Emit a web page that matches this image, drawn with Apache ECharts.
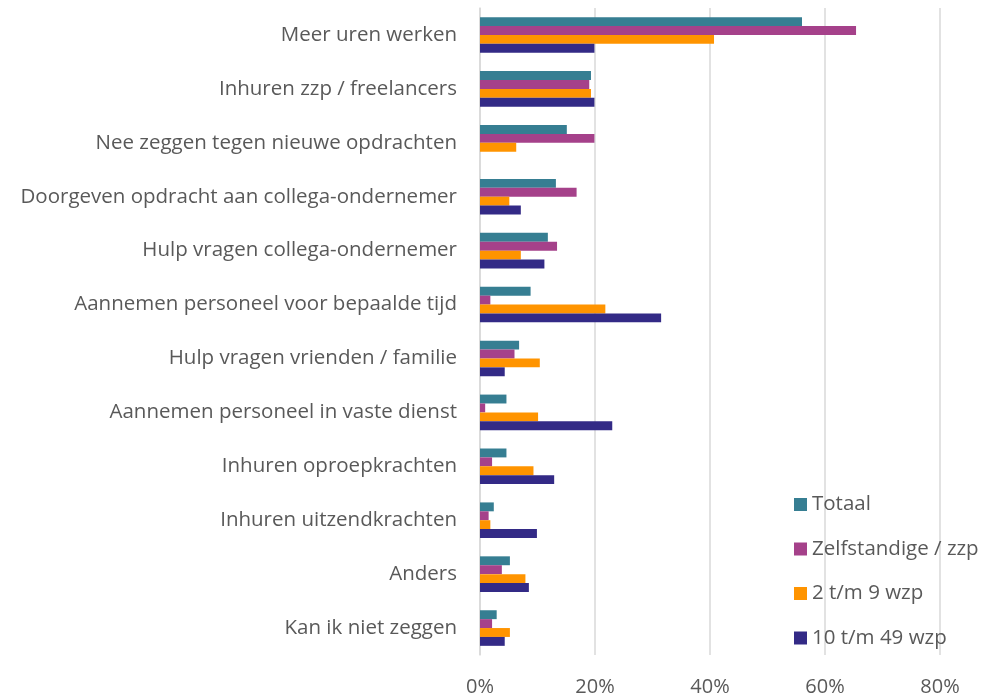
<!DOCTYPE html>
<html>
<head>
<meta charset="utf-8">
<script src="https://cdn.jsdelivr.net/npm/echarts@6/dist/echarts.min.js"></script>
<style>
  html, body { margin: 0; padding: 0; background: #fff; }
  #chart { width: 984px; height: 697px; }
</style>
</head>
<body>
<div id="chart"></div>
<script>
// categories, top to bottom
const categories = [
  'Meer uren werken',
  'Inhuren zzp / freelancers',
  'Nee zeggen tegen nieuwe opdrachten',
  'Doorgeven opdracht aan collega-ondernemer',
  'Hulp vragen collega-ondernemer',
  'Aannemen personeel voor bepaalde tijd',
  'Hulp vragen vrienden / familie',
  'Aannemen personeel in vaste dienst',
  'Inhuren oproepkrachten',
  'Inhuren uitzendkrachten',
  'Anders',
  'Kan ik niet zeggen'
];

// percentages per group
const totaal      = [56.0, 19.3, 15.1, 13.2, 11.8, 8.8, 6.8, 4.6, 4.6, 2.4, 5.2, 2.9];
const zelfstandig = [65.4, 19.0, 19.9, 16.8, 13.4, 1.8, 6.0, 0.9, 2.1, 1.5, 3.8, 2.1];
const wzp2tot9    = [40.7, 19.3, 6.3, 5.1, 7.1, 21.8, 10.4, 10.1, 9.3, 1.8, 7.9, 5.2];
const wzp10tot49  = [19.9, 19.9, 0, 7.1, 11.2, 31.5, 4.3, 23.0, 12.9, 9.9, 8.5, 4.3];

const seriesNames = ['Totaal', 'Zelfstandige / zzp', '2 t/m 9 wzp', '10 t/m 49 wzp'];
const seriesColors = ['#367E92', '#A5418A', '#FF9400', '#332A86'];
const seriesData = [totaal, zelfstandig, wzp2tot9, wzp10tot49];

const textColor = '#595959';
const fontFamily = 'Open Sans, sans-serif';

const chart = echarts.init(document.getElementById('chart'));
chart.setOption({
  animation: false,
  textStyle: { fontFamily: fontFamily },
  grid: { left: 480, right: 44, top: 8, bottom: 40, containLabel: false },
  legend: {
    orient: 'vertical',
    left: 789,
    top: 489,
    itemWidth: 13,
    itemHeight: 13,
    itemGap: 23.5,
    icon: 'rect',
    textStyle: { fontSize: 20.5, lineHeight: 21, color: textColor, fontFamily: fontFamily },
    data: seriesNames
  },
  xAxis: {
    type: 'value',
    min: 0,
    max: 80,
    interval: 20,
    axisLine: { show: false },
    axisTick: { show: false },
    splitLine: { lineStyle: { color: '#d9d9d9', width: 1.5 } },
    axisLabel: {
      formatter: '{value}%',
      fontSize: 20,
      color: textColor,
      margin: 22
    }
  },
  yAxis: {
    type: 'category',
    inverse: true,
    data: categories,
    axisLine: { show: true, lineStyle: { color: '#d9d9d9', width: 1.5 } },
    axisTick: { show: false },
    axisLabel: { fontSize: 20.5, color: textColor, margin: 23 }
  },
  series: seriesNames.map((name, i) => ({
    name: name,
    type: 'bar',
    data: seriesData[i],
    barGap: '0%',
    barCategoryGap: '34%',
    itemStyle: { color: seriesColors[i] }
  }))
});
</script>
</body>
</html>
